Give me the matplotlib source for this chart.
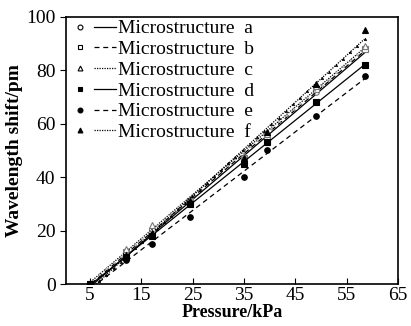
import numpy as np
import matplotlib.pyplot as plt
from matplotlib.lines import Line2D
from matplotlib.legend_handler import HandlerTuple

plt.rcParams['font.family'] = ['Liberation Serif', 'DejaVu Serif']

# Data
pressure = [5, 12, 17, 24.5, 35, 39.5, 49, 58.5]
labels = ["Microstructure  a", "Microstructure  b", "Microstructure  c",
          "Microstructure  d", "Microstructure  e", "Microstructure  f"]
shift_a = [0, 11, 19, 30, 46, 54, 72, 88]
shift_b = [0, 12, 20, 31, 47, 55, 73, 88]
shift_c = [0, 13, 22, 32, 48, 56, 74, 89]
shift_d = [0, 10, 18, 30, 45, 53, 68, 82]
shift_e = [0, 9, 15, 25, 40, 50, 63, 78]
shift_f = [0, 11, 19, 31, 47, 57, 75, 95]

series = [shift_a, shift_b, shift_c, shift_d, shift_e, shift_f]
markers = ['o', 's', '^', 's', 'o', '^']
filled = [False, False, False, True, True, True]
styles = ['-', (0, (4, 3)), (0, (1, 1)), '-', (0, (4, 3)), (0, (1, 1))]
dense = [False, False, True, False, False, True]  # fit lines drawn with tiny markers

fig = plt.figure(figsize=(4.11, 3.26), dpi=100)
ax = fig.add_axes([0.1606, 0.1288, 0.8074, 0.8192])

handles = []
xs = np.array(pressure)
xfit = np.linspace(4, 58.5, 40)
for y, m, f, ls, dn in zip(series, markers, filled, styles, dense):
    k, b = np.polyfit(xs, y, 1)
    fc = 'black' if f else 'white'
    ec = 'black' if f else '#777777'
    ax.plot(xfit, k * xfit + b, color='black', lw=0.9, ls=ls)
    if dn:
        ax.plot(xfit, k * xfit + b, ls='none', marker='^', ms=1.8,
                mfc=fc, mec=ec, mew=0.4)
    ax.plot(xs, y, ls='none', marker=m, ms=4, mfc=fc, mec=ec, mew=0.8)
    mh = Line2D([], [], ls='none', marker=m, ms=3.5, mfc=fc, mec='black', mew=0.8)
    lh = Line2D([], [], color='black', lw=0.9, ls=ls)
    handles.append((mh, lh))

ax.legend(handles, labels, loc='upper left', frameon=False, fontsize=14,
          handler_map={tuple: HandlerTuple(ndivide=None, pad=0.2)},
          handlelength=2.4, handletextpad=0.1, labelspacing=0.16,
          borderaxespad=0.1, borderpad=0.05)

ax.set_xlim(0.3, 65)
ax.set_ylim(0, 100)
ax.set_xticks([5, 15, 25, 35, 45, 55, 65])
ax.set_yticks([0, 20, 40, 60, 80, 100])
ax.tick_params(axis='x', direction='in', labelsize=14, length=4, pad=2)
ax.tick_params(axis='y', direction='out', labelsize=14, length=4)
for s in ax.spines.values():
    s.set_linewidth(1.2)

ax.set_xlabel('Pressure/kPa', fontsize=13, fontweight='bold', labelpad=0)
ax.set_ylabel('Wavelength shift/pm', fontsize=14, fontweight='bold', labelpad=2)

fig.savefig('out.png', dpi=100)
